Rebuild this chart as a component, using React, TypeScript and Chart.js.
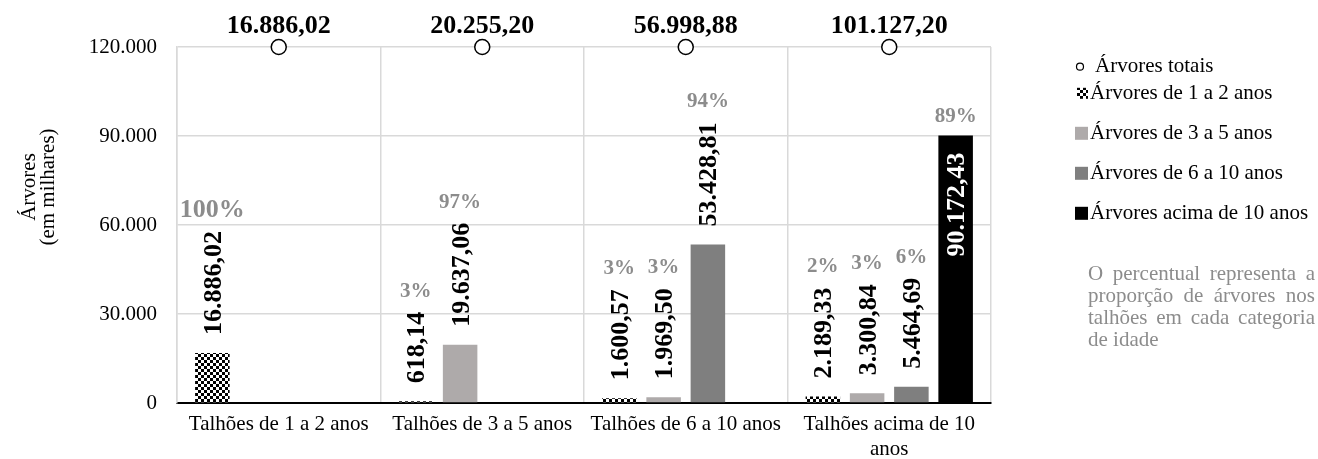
import React, { useEffect, useRef } from "react";
import { Chart, registerables } from "chart.js";

Chart.register(...registerables);

// ---------- data ----------
const categories = [
  ["Talhões de 1 a 2 anos"],
  ["Talhões de 3 a 5 anos"],
  ["Talhões de 6 a 10 anos"],
  ["Talhões acima de 10", "anos"],
];
const totalsName = "Árvores totais";
const seriesNames = [
  "Árvores de 1 a 2 anos",
  "Árvores de 3 a 5 anos",
  "Árvores de 6 a 10 anos",
  "Árvores acima de 10 anos",
];
const trees1to2 = [16886.02, 618.14, 1600.57, 2189.33];
const trees3to5 = [null, 19637.06, 1969.5, 3300.84];
const trees6to10 = [null, null, 53428.81, 5464.69];
const treesOver10 = [null, null, null, 90172.43];
const totals = [16886.02, 20255.2, 56998.88, 101127.2];
const totalMarkerLevel = [120000, 120000, 120000, 120000];
const pct1to2 = ["100%", "3%", "3%", "2%"];
const pct3to5 = [null, "97%", "3%", "3%"];
const pct6to10 = [null, null, "94%", "6%"];
const pctOver10 = [null, null, null, "89%"];
const yMin = 0;
const yMax = 120000;
const yStep = 30000;
const axisTitle = ["Árvores", "(em milhares)"];
const noteLines = [
  "O percentual representa a",
  "proporção de árvores nos",
  "talhões em cada categoria",
  "de idade",
];

// ---------- styles ----------
const FONT = "'Liberation Serif', 'Times New Roman', serif";
const GRID = "#d9d9d9";
const PCT_COLOR = "#8c8c8c";
const barColors = ["pattern", "#aeaaaa", "#7f7f7f", "#000000"];

const fmt = (v: number, d: number) => {
  const [i, f] = v.toFixed(d).split(".");
  const ii = i.replace(/\B(?=(\d{3})+(?!\d))/g, ".");
  return f ? ii + "," + f : ii;
};

function makeChecker(ctx: CanvasRenderingContext2D) {
  const c = document.createElement("canvas");
  c.width = 6;
  c.height = 6;
  const g = c.getContext("2d")!;
  g.fillStyle = "#fff";
  g.fillRect(0, 0, 6, 6);
  g.fillStyle = "#000";
  g.fillRect(0, 0, 3, 3);
  g.fillRect(3, 3, 3, 3);
  return ctx.createPattern(c, "repeat")!;
}

export default function App() {
  const ref = useRef<HTMLCanvasElement | null>(null);

  useEffect(() => {
    document.body.style.margin = "0";
    const canvas = ref.current!;
    const ctx0 = canvas.getContext("2d")!;
    const checker = makeChecker(ctx0);
    const fills = barColors.map((c) => (c === "pattern" ? checker : c));
    const barSeries = [trees1to2, trees3to5, trees6to10, treesOver10];
    const pctSeries = [pct1to2, pct3to5, pct6to10, pctOver10];

    const labelPlugin = {
      id: "customLabels",
      afterDatasetsDraw(chart: any) {
        const ctx: CanvasRenderingContext2D = chart.ctx;
        const area = chart.chartArea;
        ctx.save();
        // totals above circles
        const m0 = chart.getDatasetMeta(0);
        ctx.font = `bold 26px ${FONT}`;
        ctx.fillStyle = "#000";
        ctx.textAlign = "center";
        ctx.textBaseline = "alphabetic";
        m0.data.forEach((pt: any, i: number) => {
          ctx.fillText(fmt(totals[i], 2), pt.x, pt.y - 14);
        });
        // bar value labels + percentages
        barSeries.forEach((series, d) => {
          const meta = chart.getDatasetMeta(d + 1);
          meta.data.forEach((bar: any, i: number) => {
            const v = series[i];
            if (v == null) return;
            const text = fmt(v, 2);
            ctx.font = `bold 26px ${FONT}`;
            const w = ctx.measureText(text).width;
            const inside = bar.y - 18 - w < area.top;
            let pctY: number;
            ctx.save();
            if (!inside) {
              const start = bar.y - 18;
              ctx.translate(bar.x, start);
              ctx.rotate(-Math.PI / 2);
              ctx.textAlign = "left";
              ctx.fillStyle = "#000";
              ctx.fillText(text, 0, 8.5);
              pctY = start - w - 22;
            } else {
              const end = bar.y + 17;
              ctx.translate(bar.x, end);
              ctx.rotate(-Math.PI / 2);
              ctx.textAlign = "right";
              ctx.fillStyle = "#fff";
              ctx.fillText(text, 0, 8.5);
              pctY = bar.y - 20;
            }
            ctx.restore();
            const p = pctSeries[d][i];
            if (p) {
              const size = p === "100%" ? 26 : 21;
              ctx.font = `bold ${size}px ${FONT}`;
              ctx.fillStyle = PCT_COLOR;
              ctx.textAlign = "center";
              ctx.textBaseline = "alphabetic";
              ctx.fillText(p, bar.x, pctY + size * 0.33);
            }
          });
        });
        ctx.restore();
      },
      afterDraw(chart: any) {
        const ctx: CanvasRenderingContext2D = chart.ctx;
        ctx.save();
        // y axis title
        ctx.font = `21px ${FONT}`;
        ctx.fillStyle = "#000";
        ctx.textAlign = "center";
        ctx.textBaseline = "middle";
        axisTitle.forEach((t, k) => {
          ctx.save();
          ctx.translate(29 + k * 19, 187);
          ctx.rotate(-Math.PI / 2);
          ctx.fillText(t, 0, 0);
          ctx.restore();
        });
        // legend
        const legendY = [66.7, 93.3, 133.3, 173.3, 213.3];
        ctx.textAlign = "left";
        ctx.textBaseline = "middle";
        ctx.font = `21px ${FONT}`;
        ctx.beginPath();
        ctx.arc(1080, legendY[0], 3.5, 0, Math.PI * 2);
        ctx.fillStyle = "#fff";
        ctx.fill();
        ctx.lineWidth = 1.2;
        ctx.strokeStyle = "#000";
        ctx.stroke();
        ctx.fillStyle = "#000";
        ctx.fillText(totalsName, 1095, legendY[0]);
        seriesNames.forEach((n, k) => {
          const y = legendY[k + 1];
          const sz = k === 0 ? 11 : 13;
          ctx.fillStyle = fills[k] as any;
          ctx.fillRect(1088 - sz, y - sz / 2, sz, sz);
          ctx.fillStyle = "#000";
          ctx.fillText(n, 1090, y);
        });
        // note (justified)
        const left = 1088;
        const right = 1315;
        ctx.fillStyle = PCT_COLOR;
        ctx.textBaseline = "alphabetic";
        noteLines.forEach((line, k) => {
          const y = 280 + k * 22;
          const words = line.split(" ");
          if (k === noteLines.length - 1 || words.length < 2) {
            ctx.fillText(line, left, y);
            return;
          }
          const ww = words.map((w) => ctx.measureText(w).width);
          const total = ww.reduce((a, b) => a + b, 0);
          const gap = (right - left - total) / (words.length - 1);
          let x = left;
          words.forEach((w, j) => {
            ctx.fillText(w, x, y);
            x += ww[j] + gap;
          });
        });
        ctx.restore();
      },
    };

    const barDs = barSeries.map((s, k) => ({
      type: "bar" as const,
      label: seriesNames[k],
      data: s,
      backgroundColor: fills[k],
      borderWidth: 0,
      categoryPercentage: 0.87,
      barPercentage: 0.78,
      order: 2,
    }));

    const chart = new Chart(canvas, {
      type: "bar",
      data: {
        labels: categories as any,
        datasets: [
          {
            type: "line",
            label: totalsName,
            data: totalMarkerLevel,
            showLine: false,
            pointRadius: 7.5,
            pointBackgroundColor: "#fff",
            pointBorderColor: "#000",
            pointBorderWidth: 1.5,
            clip: false as any,
            order: 0,
          } as any,
          ...(barDs as any),
        ],
      },
      options: {
        responsive: false,
        animation: false,
        layout: { padding: { left: 0, top: 47, right: 327, bottom: 0 } },
        plugins: { legend: { display: false }, tooltip: { enabled: false } },
        scales: {
          x: {
            grid: { color: GRID, lineWidth: 1.5, drawTicks: false, offset: true },
            border: { color: "#000", width: 2 },
            ticks: {
              font: { family: FONT, size: 21 },
              color: "#000",
              padding: 9,
              maxRotation: 0,
              autoSkip: false,
            },
            afterFit(s: any) {
              s.height = 56;
            },
          },
          y: {
            min: yMin,
            max: yMax,
            ticks: {
              stepSize: yStep,
              callback: (v: any) => fmt(Number(v), 0),
              font: { family: FONT, size: 21 },
              color: "#000",
              padding: 20,
            },
            grid: { color: GRID, lineWidth: 1.5, drawTicks: false },
            border: { color: GRID, width: 1.5 },
            afterFit(s: any) {
              s.width = 177;
            },
          },
        },
      },
      plugins: [labelPlugin],
    });
    return () => chart.destroy();
  }, []);

  return (
    <div style={{ position: "absolute", left: 0, top: 0, width: 1318, height: 459 }}>
      <canvas ref={ref} width={1318} height={459} />
    </div>
  );
}
